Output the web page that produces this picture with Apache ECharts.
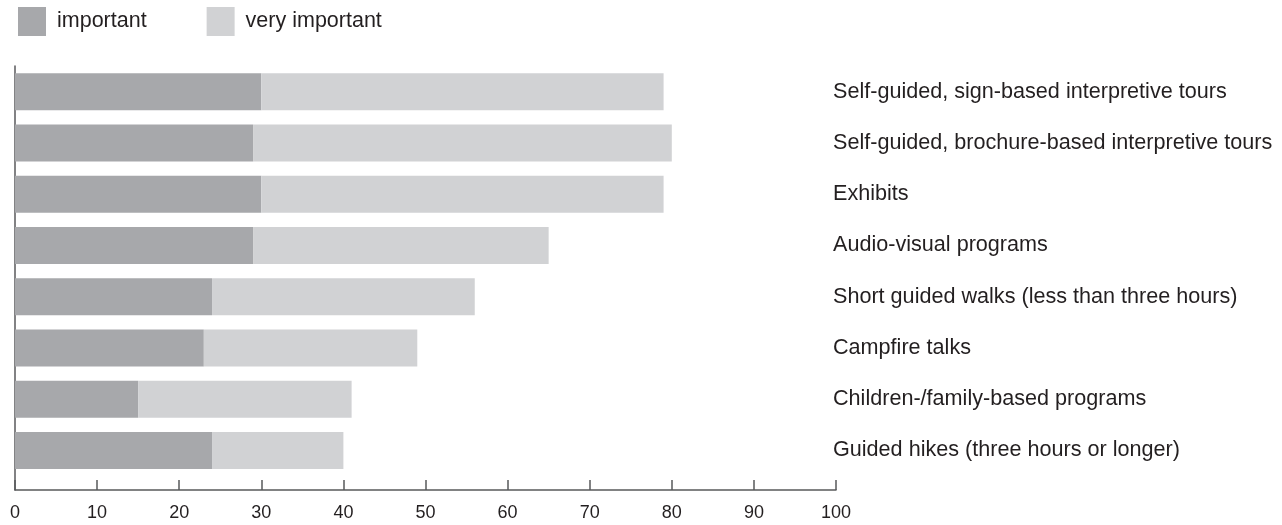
<!DOCTYPE html>
<html>
<head>
<meta charset="utf-8">
<title>Interpretive services</title>
<script src="https://cdn.jsdelivr.net/npm/echarts@6/dist/echarts.min.js"></script>
<style>
  html, body { margin: 0; padding: 0; background: #fff; }
  #chart { width: 1282px; height: 525px; }
</style>
</head>
<body>
<div id="chart"></div>
<script>
// categories, top to bottom
var categories = [
  'Self-guided, sign-based interpretive tours',
  'Self-guided, brochure-based interpretive tours',
  'Exhibits',
  'Audio-visual programs',
  'Short guided walks (less than three hours)',
  'Campfire talks',
  'Children-/family-based programs',
  'Guided hikes (three hours or longer)'
];
var important = [30, 29, 30, 29, 24, 23, 15, 24];
var veryImportant = [49, 51, 49, 36, 32, 26, 26, 16];
var seriesNames = ['important', 'very important'];
var xMin = 0, xMax = 100, xStep = 10;

var font = 'Liberation Sans';
var textColor = '#231f20';
var axisColor = '#58595b';

var chart = echarts.init(document.getElementById('chart'));
chart.setOption({
  animation: false,
  color: ['#a7a8ab', '#d1d2d4'],
  textStyle: { fontFamily: font },
  legend: {
    data: seriesNames,
    left: 13,
    top: 2,
    icon: 'rect',
    itemWidth: 28,
    itemHeight: 29,
    itemGap: 60,
    textStyle: { fontSize: 21.5, color: textColor, fontFamily: font, padding: [0, 0, 0, 6] }
  },
  grid: [
    // bars
    { left: 15, right: 446, top: 66, height: 410 },
    // axis frame, reaches a bit lower than the bars
    { left: 15, right: 446, top: 66, height: 424 }
  ],
  xAxis: [
    { gridIndex: 0, type: 'value', min: xMin, max: xMax, show: false },
    {
      gridIndex: 1, type: 'value', min: xMin, max: xMax, interval: xStep,
      axisLine: { lineStyle: { color: axisColor, width: 1.5 } },
      axisTick: { inside: true, length: 10, lineStyle: { color: axisColor, width: 1.5 } },
      splitLine: { show: false },
      axisLabel: { color: textColor, fontSize: 18, margin: 14, fontFamily: font }
    }
  ],
  yAxis: [
    {
      gridIndex: 0, type: 'category', data: categories, inverse: true, position: 'right',
      axisLine: { show: false },
      axisTick: { show: false },
      axisLabel: { color: textColor, fontSize: 21.6, margin: -3, fontFamily: font }
    },
    {
      gridIndex: 1, type: 'value', min: 0, max: 1,
      axisLine: { show: true, lineStyle: { color: axisColor, width: 1.5 } },
      axisTick: { show: false },
      axisLabel: { show: false },
      splitLine: { show: false }
    }
  ],
  series: [
    {
      name: seriesNames[0], type: 'bar', stack: 'total',
      xAxisIndex: 0, yAxisIndex: 0, barWidth: 37,
      data: important
    },
    {
      name: seriesNames[1], type: 'bar', stack: 'total',
      xAxisIndex: 0, yAxisIndex: 0, barWidth: 37,
      data: veryImportant
    }
  ]
});
</script>
</body>
</html>
